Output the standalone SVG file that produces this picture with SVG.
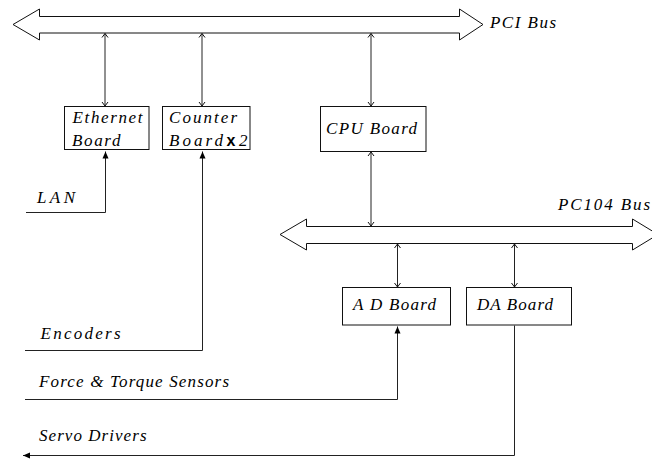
<svg xmlns="http://www.w3.org/2000/svg" width="652" height="460" viewBox="0 0 652 460">
<style>
.box{fill:#fff;stroke:#111;stroke-width:1}
.bus{fill:#fff;stroke:#111;stroke-width:1}
.c{fill:none;stroke:#222;stroke-width:1}
</style>
<defs>
<marker id="chev" markerUnits="userSpaceOnUse" viewBox="-6 -5 8 10" markerWidth="8" markerHeight="10" refX="0" refY="0" orient="auto-start-reverse">
<path d="M-4,-3 L0,0 L-4,3" fill="none" stroke="#111" stroke-width="1"/>
</marker>
<marker id="tri" markerUnits="userSpaceOnUse" viewBox="-8 -4 10 8" markerWidth="10" markerHeight="8" refX="0" refY="0" orient="auto">
<path d="M-7,-3 L0,0 L-7,3 Z" fill="#000"/>
</marker>
</defs>
<g font-family="Liberation Serif, Times New Roman, serif" font-style="italic" font-size="17" fill="#000">
<g id="pci-bus">
<polygon class="bus" points="13,24.5 39.5,9 39.5,16.5 459.5,16.5 459.5,9 483,24.5 459.5,40 459.5,33 39.5,33 39.5,40"/>
<text x="490" y="28" textLength="66" lengthAdjust="spacing">PCI Bus</text>
</g>
<g id="pc104-bus">
<polygon class="bus" points="280,234.5 306.5,219 306.5,226.5 632.5,226.5 632.5,219 658,234.5 632.5,250 632.5,243.5 306.5,243.5 306.5,250"/>
<text x="558" y="210" textLength="92" lengthAdjust="spacing">PC104 Bus</text>
</g>
<g id="ethernet-board">
<rect class="box" x="64.5" y="106.5" width="84.5" height="43"/>
<text x="72.5" y="123" textLength="70" lengthAdjust="spacing">Ethernet</text>
<text x="72" y="145.5" textLength="48.5" lengthAdjust="spacing">Board</text>
</g>
<g id="counter-board">
<rect class="box" x="162.5" y="106.5" width="87.5" height="43"/>
<text x="169" y="123" textLength="68" lengthAdjust="spacing">Counter</text>
<text x="169" y="145.5" textLength="54" lengthAdjust="spacing">Board</text>
<text x="226.5" y="145.5" font-family="Liberation Sans, Arial, sans-serif" font-style="normal" font-size="16" font-weight="bold">x</text>
<text x="239" y="145.5">2</text>
</g>
<g id="cpu-board">
<rect class="box" x="320.5" y="106.5" width="105.5" height="45"/>
<text x="326" y="134" textLength="91" lengthAdjust="spacing">CPU Board</text>
</g>
<g id="ad-board">
<rect class="box" x="342.5" y="287.5" width="108" height="37.5"/>
<text x="353" y="310" textLength="83" lengthAdjust="spacing">A D Board</text>
</g>
<g id="da-board">
<rect class="box" x="466.5" y="287.5" width="105" height="37.5"/>
<text x="477" y="310" textLength="76" lengthAdjust="spacing">DA Board</text>
</g>
<g id="labels">
<text x="37" y="202.5" textLength="38" lengthAdjust="spacing">LAN</text>
<text x="40.5" y="339" textLength="80" lengthAdjust="spacing">Encoders</text>
<text x="39" y="387" textLength="190" lengthAdjust="spacing">Force &amp; Torque Sensors</text>
<text x="39" y="440.5" textLength="107.5" lengthAdjust="spacing">Servo Drivers</text>
</g>
</g>
<g id="connectors">
<line class="c" x1="105" y1="33.5" x2="105" y2="106" marker-start="url(#chev)" marker-end="url(#chev)"/>
<line class="c" x1="202" y1="33.5" x2="202" y2="106" marker-start="url(#chev)" marker-end="url(#chev)"/>
<line class="c" x1="371" y1="33.5" x2="371" y2="106" marker-start="url(#chev)" marker-end="url(#chev)"/>
<line class="c" x1="371" y1="152" x2="371" y2="226" marker-start="url(#chev)" marker-end="url(#chev)"/>
<line class="c" x1="397.5" y1="244" x2="397.5" y2="287" marker-start="url(#chev)" marker-end="url(#chev)"/>
<line class="c" x1="514.5" y1="244" x2="514.5" y2="287" marker-start="url(#chev)" marker-end="url(#chev)"/>
<path class="c" d="M26,212.5 H105.5 V151.5" marker-end="url(#tri)"/>
<path class="c" d="M25,350.5 H202.5 V151.5" marker-end="url(#tri)"/>
<path class="c" d="M25,399.5 H397.5 V326.5" marker-end="url(#tri)"/>
<path class="c" d="M514.5,325.5 V455.5 H23" marker-end="url(#tri)"/>
</g>
</svg>
